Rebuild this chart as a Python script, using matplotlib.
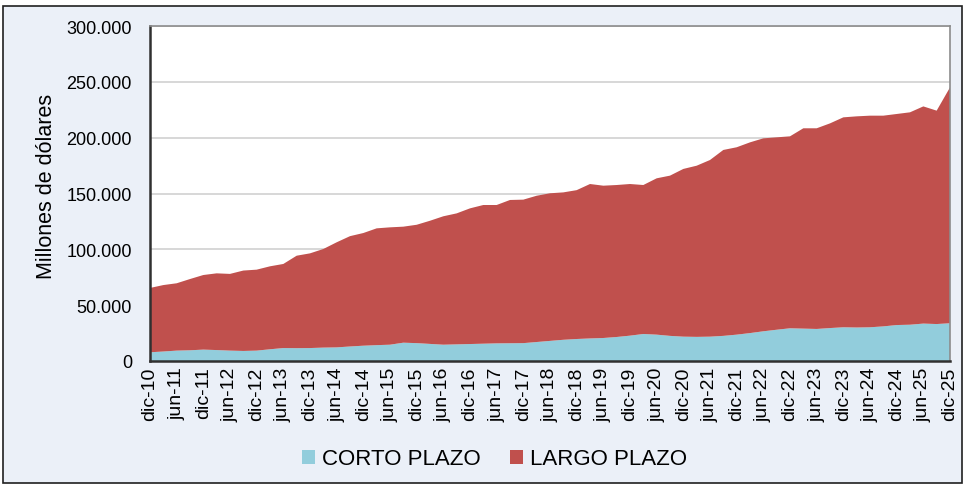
import numpy as np
import matplotlib
matplotlib.use("Agg")
from matplotlib import pyplot as plt
from matplotlib.patches import Rectangle
from matplotlib.ticker import FuncFormatter

# quarterly readings, dic-10 .. dic-25 (millones de dólares)
corto_plazo = [7800, 8500, 9300, 9600, 10200, 9800, 9300, 9000, 9300, 10500,
               11600, 11500, 11600, 12000, 12200, 13000, 13700, 14200, 14600, 16400,
               16000, 15300, 14600, 14900, 15200, 15500, 15800, 15900, 16000, 17000,
               18000, 19000, 19700, 20200, 20600, 21500, 22700, 24200, 23600, 22500,
               21800, 21600, 21800, 22500, 23600, 25000, 26600, 28000, 29300, 29000,
               28700, 29500, 30200, 30000, 30200, 31000, 32200, 32500, 33500, 33100,
               33800]
largo_plazo = [57600, 59500, 60300, 63800, 66800, 68700, 68700, 72000, 72500, 74300,
               75300, 82800, 84800, 88300, 94100, 98800, 100900, 104600, 105100, 103900,
               106000, 110300, 115000, 117300, 121500, 124200, 123900, 128300, 128500, 131000,
               132200, 132000, 133300, 138300, 136400, 136100, 135800, 133400, 140000, 143500,
               150200, 153300, 158200, 166500, 167800, 170800, 172800, 172300, 171900, 179400,
               179700, 183300, 188000, 189100, 189500, 188700, 189000, 190200, 194500, 191100,
               211200]
etiquetas = ["dic-10", "jun-11", "dic-11", "jun-12", "dic-12", "jun-13", "dic-13",
             "jun-14", "dic-14", "jun-15", "dic-15", "jun-16", "dic-16", "jun-17",
             "dic-17", "jun-18", "dic-18", "jun-19", "dic-19", "jun-20", "dic-20",
             "jun-21", "dic-21", "jun-22", "dic-22", "jun-23", "dic-23", "jun-24",
             "dic-24", "jun-25", "dic-25"]

plt.rcParams['font.family'] = ['Liberation Sans', 'DejaVu Sans']

fig = plt.figure(figsize=(9.64, 4.85), dpi=100)
fig.patch.set_facecolor("white")
W, H = 964, 485
# panel background with frame (title above is cut off in the reference)
fig.patches.append(Rectangle((3 / W, 1 / H), 959 / W, 477 / H, transform=fig.transFigure,
                             facecolor="#EBF0F8", edgecolor="#202020", linewidth=1.2, zorder=-10))

ax = fig.add_axes([150 / W, 1 - 362 / H, 800 / W, 335 / H])
ax.set_facecolor("white")

x = np.arange(len(corto_plazo)) * 3
ax.stackplot(x, corto_plazo, largo_plazo, colors=["#92CDDC", "#C0504D"],
             labels=["CORTO PLAZO", "LARGO PLAZO"], linewidth=0)

ax.set_xlim(0, 180)
ax.set_ylim(0, 300000)
ax.set_yticks(np.arange(0, 300001, 50000))
ax.yaxis.set_major_formatter(FuncFormatter(lambda v, p: f"{int(v):,}".replace(",", ".")))
ax.set_xticks(np.arange(0, 181, 6))
ax.set_xticklabels(etiquetas, rotation=90)
ax.tick_params(axis="y", length=0, pad=13, labelsize=13)
ax.tick_params(axis="x", length=0, pad=4, labelsize=14)
ax.grid(axis="y", color="#D4D4D4", linewidth=1.3)
ax.set_axisbelow(True)

for s in ["top", "right"]:
    ax.spines[s].set_color("#8C8C8C")
    ax.spines[s].set_linewidth(1.2)
for s in ["left", "bottom"]:
    ax.spines[s].set_color("#303030")
    ax.spines[s].set_linewidth(1.8)

ax.set_ylabel("Millones de dólares", fontsize=15.5)
ax.yaxis.set_label_coords(-0.116, 0.525)

fig.legend(loc="center", bbox_to_anchor=(0.513, 1 - 460 / H), ncol=2, frameon=False,
           fontsize=16, handlelength=0.6, handleheight=0.6, handletextpad=0.3,
           columnspacing=1.3)

fig.savefig("out.png", dpi=100)
